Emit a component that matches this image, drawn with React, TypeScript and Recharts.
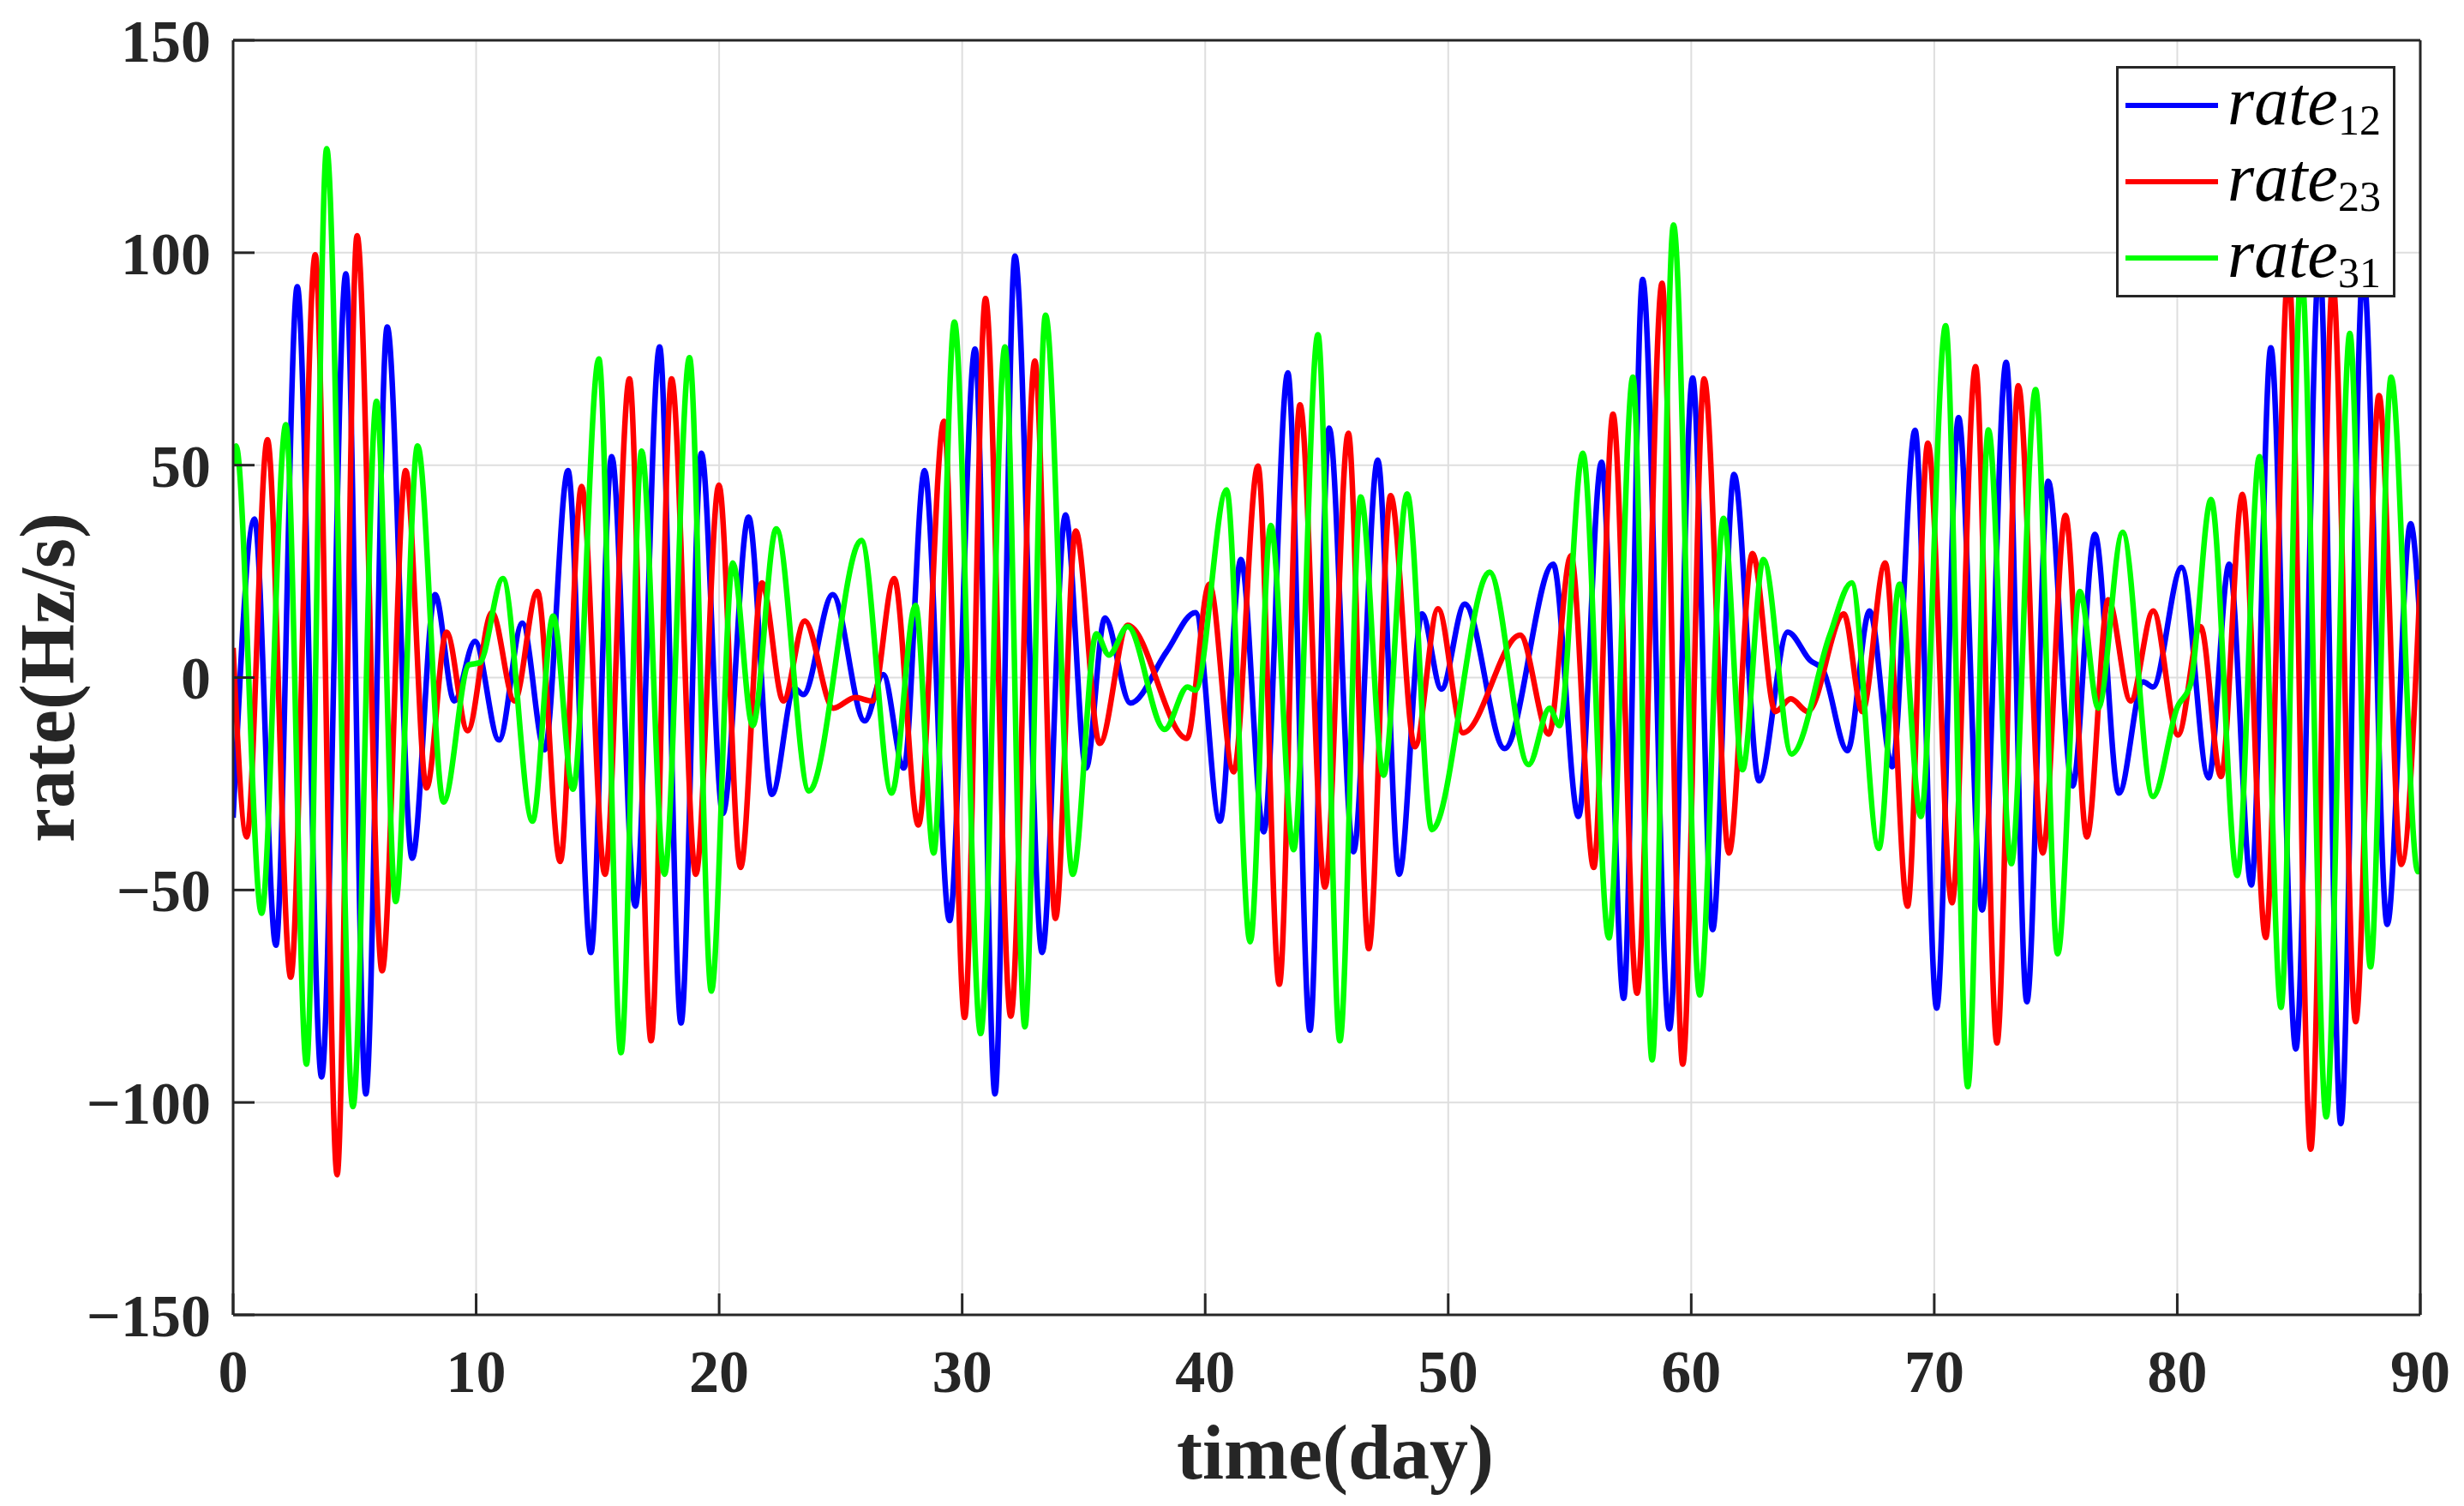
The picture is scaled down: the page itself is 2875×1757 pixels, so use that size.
import React from 'react';
import { LineChart, Line, XAxis, YAxis, CartesianGrid, Legend, Label } from 'recharts';

// ---------- data (extrema) ----------
const xTicks = [0, 10, 20, 30, 40, 50, 60, 70, 80, 90];
const yTicks = [-150, -100, -50, 0, 50, 100, 150];

const rate12Days = [0, 0.88, 1.76, 2.64, 3.64, 4.64, 5.46, 6.34, 7.37, 8.31, 9.1, 9.95, 10.94, 11.9, 12.82, 13.78, 14.72, 15.58, 16.55, 17.55, 18.43, 19.27, 20.15, 21.21, 22.17, 23.1, 23.46, 24.67, 25.99, 26.75, 27.6, 28.45, 29.48, 30.53, 31.35, 32.17, 33.29, 34.25, 35.1, 35.87, 36.92, 38.4, 39.6, 40.61, 41.47, 42.41, 43.4, 44.31, 45.1, 46.1, 47.1, 47.98, 48.92, 49.72, 50.68, 52.32, 54.32, 55.36, 56.31, 57.22, 58.0, 59.1, 60.06, 60.88, 61.76, 62.79, 63.97, 64.9, 65.4, 66.43, 67.34, 68.27, 69.21, 70.1, 71.0, 71.97, 72.96, 73.81, 74.69, 75.69, 76.61, 77.6, 78.6, 79.0, 80.18, 81.29, 82.14, 83.05, 83.85, 84.88, 85.85, 86.73, 87.65, 88.64, 89.6, 90];
const rate12Vals = [-33, 37.3, -63, 92, -94, 95, -98, 82.5, -42.5, 19.5, -5.5, 8.5, -14.7, 12.8, -17, 48.7, -64.7, 52, -53.8, 77.8, -81.3, 52.8, -32, 37.8, -27.5, -2.5, -4, 19.5, -10.2, 0.7, -21.3, 48.7, -57.2, 77.3, -98, 99.2, -64.7, 38.3, -21.3, 14, -6, 6, 15.3, -33.8, 27.8, -36.3, 71.7, -83, 58.7, -41, 51.2, -46.3, 15, -2.7, 17.3, -16.7, 26.7, -32.7, 50.7, -75.5, 93.7, -82.7, 70.5, -59.3, 47.8, -24.3, 10.7, 4, 2, -17.2, 15.7, -21, 58.2, -77.8, 61.2, -54.7, 74.2, -76.3, 46.2, -25.5, 33.7, -27.2, -1, -2.2, 25.9, -23.6, 26.7, -48.8, 77.6, -87.4, 98, -105, 96, -58.1, 36.2, 12];

const rate23Days = [0, 0.56, 1.41, 2.37, 3.38, 4.28, 5.1, 6.13, 7.1, 7.96, 8.78, 9.65, 10.65, 11.58, 12.52, 13.46, 14.34, 15.3, 16.31, 17.2, 18.04, 19.04, 19.99, 20.88, 21.76, 22.64, 23.52, 24.7, 25.6, 26.3, 27.2, 28.2, 29.25, 30.1, 30.96, 32.0, 32.99, 33.84, 34.67, 35.66, 36.81, 39.25, 40.17, 41.17, 42.17, 43.05, 43.9, 44.93, 45.89, 46.73, 47.63, 48.63, 49.58, 50.61, 52.96, 54.14, 55.05, 55.99, 56.78, 57.77, 58.8, 59.65, 60.53, 61.55, 62.52, 63.46, 64.1, 64.8, 66.28, 67.04, 67.98, 68.9, 69.74, 70.73, 71.7, 72.58, 73.46, 74.46, 75.4, 76.28, 77.16, 78.08, 79.01, 80.03, 80.96, 81.8, 82.68, 83.64, 84.58, 85.49, 86.4, 87.34, 88.3, 89.22, 90];
const rate23Vals = [7, -37.5, 56, -70.5, 99.5, -117, 104, -69, 48.7, -26, 10.7, -12.5, 15.3, -5.5, 20.3, -43.3, 45, -46.3, 70.3, -85.5, 70.3, -46.3, 45.3, -44.7, 22.3, -5.5, 13.3, -7.2, -4.7, -5.5, 23.3, -34.7, 60.3, -80, 89.2, -79.7, 74.5, -56.7, 34.5, -15.5, 12.3, -14.3, 22, -22.2, 49.8, -72.2, 64.2, -49.3, 57.5, -63.8, 42.8, -16.3, 16.2, -13, 10, -13.3, 28.7, -44.7, 62, -74.3, 92.8, -91, 70.3, -41.3, 29.2, -8, -5, -8, 15, -8, 27, -53.8, 55.2, -53, 73.2, -86, 68.7, -41.3, 38.2, -37.5, 18.3, -5.5, 15.7, -13.5, 12, -23.3, 43.1, -61.2, 96, -111, 93, -81, 66.4, -44, 23];

const rate31Days = [0, 0.12, 1.17, 2.17, 3.02, 3.85, 4.93, 5.9, 6.69, 7.59, 8.66, 9.7, 10.15, 11.1, 12.32, 13.17, 13.99, 15.05, 15.96, 16.81, 17.75, 18.78, 19.68, 20.56, 21.38, 22.35, 23.7, 25.85, 27.1, 28.08, 28.83, 29.68, 30.76, 31.76, 32.58, 33.43, 34.55, 35.52, 36.04, 36.81, 38.33, 39.27, 39.6, 40.88, 41.85, 42.7, 43.64, 44.64, 45.54, 46.4, 47.34, 48.31, 49.33, 51.7, 53.31, 54.17, 54.58, 55.54, 56.61, 57.6, 58.39, 59.27, 60.35, 61.33, 62.11, 62.97, 64.13, 65.7, 66.6, 67.72, 68.57, 69.45, 70.47, 71.38, 72.23, 73.17, 74.17, 75.08, 75.99, 76.75, 77.75, 79.0, 80.0, 80.55, 81.39, 82.47, 83.38, 84.27, 85.1, 86.13, 87.1, 87.95, 88.8, 89.9, 90];
const rate31Vals = [50, 54.5, -55.5, 59.5, -91, 124.5, -101, 65, -52.7, 54.5, -29.3, 3.0, 3.5, 23.3, -33.8, 14.5, -26.3, 75, -88.3, 53.3, -46.3, 75.3, -73.8, 27, -11.3, 35, -26.7, 32.3, -27.2, 17, -41.3, 83.7, -83.8, 77.8, -82.2, 85.3, -46.3, 10.3, 5.3, 12, -12.2, -2.2, -3, 44.2, -62.2, 35.8, -40.5, 80.7, -85.5, 42.5, -23, 43.2, -35.8, 24.8, -20.5, -7.2, -11.3, 52.8, -61.3, 70.7, -90, 106.5, -74.7, 37.5, -21.7, 27.8, -18, 10, 22.3, -40.2, 22, -32.7, 82.8, -96.3, 58.3, -43.8, 67.8, -65, 20.3, -7.2, 34.2, -28, -7, -1.5, 41.9, -46.6, 52, -77.6, 96, -103.4, 81, -68.1, 70.7, -45.7, -45];

const seriesNames = ['rate12', 'rate23', 'rate31'];
const legendBase = ['rate', 'rate', 'rate'];
const legendSubs = ['12', '23', '31'];
const seriesColors = ['#0000FF', '#FF0000', '#00FF00'];

const toPoints = (days: number[], vals: number[]) => days.map((t, i) => ({ t, v: vals[i] }));
const seriesData = [
  toPoints(rate12Days, rate12Vals),
  toPoints(rate23Days, rate23Vals),
  toPoints(rate31Days, rate31Vals),
];

// ---------- styles ----------
const W = 2875;
const H = 1757;
const AX = '#262626';
const FONT = '"Liberation Serif", "Times New Roman", serif';
const tickStyle = { fontSize: 70, fontWeight: 'bold' as const, fontFamily: FONT, fill: AX };
const fmt = (v: number) => String(v).replace('-', '\u2212');

const LegendBox = (props: any) => {
  const payload = (props.payload || []).filter((p: any) => seriesNames.includes(p.value));
  const ordered = seriesNames.map((n) => payload.find((p: any) => p.value === n)).filter(Boolean);
  return (
    <svg width={326} height={270} style={{ display: 'block', overflow: 'visible' }}>
      <rect x={1.5} y={1.5} width={323} height={267} fill="#ffffff" stroke={AX} strokeWidth={3} />
      {ordered.map((p: any, i: number) => {
        const idx = seriesNames.indexOf(p.value);
        const ly = 46 + i * 89;
        return (
          <g key={p.value}>
            <line x1={11} x2={119} y1={ly} y2={ly} stroke={p.color} strokeWidth={6} />
            <text x={130} y={ly + 22} fontFamily={FONT} fontStyle="italic" fontSize={80} fill="#000">
              {legendBase[idx]}
              <tspan fontStyle="normal" fontSize={50} dy={12}>{legendSubs[idx]}</tspan>
            </text>
          </g>
        );
      })}
    </svg>
  );
};

export default function App() {
  return (
    <div style={{ position: 'absolute', left: 0, top: 0, width: W, height: H, background: '#fff' }}>
      <LineChart width={W} height={H} margin={{ top: 0, right: 0, bottom: 0, left: 0 }}>
        <CartesianGrid stroke="#dedede" strokeWidth={2} xAxisId="bottom" yAxisId="left" />
        <XAxis
          xAxisId="bottom"
          type="number"
          dataKey="t"
          domain={[0, 90]}
          ticks={xTicks}
          interval={0}
          allowDataOverflow
          height={223}
          tickSize={-25}
          tickMargin={65}
          tick={tickStyle}
          tickFormatter={fmt}
          axisLine={{ stroke: AX, strokeWidth: 3 }}
          tickLine={{ stroke: AX, strokeWidth: 3 }}
        >
          <Label
            value="time(day)"
            position="insideBottom"
            offset={32}
            dx={10}
            style={{ fontSize: 90, fontWeight: 'bold', fontFamily: FONT, fill: AX }}
          />
        </XAxis>
        <XAxis
          xAxisId="top"
          orientation="top"
          type="number"
          dataKey="t"
          domain={[0, 90]}
          ticks={xTicks}
          interval={0}
          allowDataOverflow
          height={47}
          tickSize={-25}
          tick={false}
          axisLine={{ stroke: AX, strokeWidth: 3 }}
          tickLine={{ stroke: AX, strokeWidth: 3 }}
        />
        <YAxis
          yAxisId="left"
          type="number"
          domain={[-150, 150]}
          ticks={yTicks}
          interval={0}
          allowDataOverflow
          width={272}
          tickSize={-25}
          tickMargin={51}
          tick={tickStyle}
          tickFormatter={fmt}
          axisLine={{ stroke: AX, strokeWidth: 3 }}
          tickLine={{ stroke: AX, strokeWidth: 3 }}
        >
          <Label
            value="rate(Hz/s)"
            angle={-90}
            position="insideLeft"
            offset={54}
            style={{ fontSize: 90, fontWeight: 'bold', fontFamily: FONT, fill: AX, textAnchor: 'middle' }}
          />
        </YAxis>
        <YAxis
          yAxisId="right"
          orientation="right"
          type="number"
          domain={[-150, 150]}
          ticks={yTicks}
          interval={0}
          allowDataOverflow
          width={51}
          tickSize={-25}
          tick={false}
          axisLine={{ stroke: AX, strokeWidth: 3 }}
          tickLine={{ stroke: AX, strokeWidth: 3 }}
        />
        {seriesData.map((d, i) => (
          <Line
            key={seriesNames[i]}
            xAxisId="bottom"
            yAxisId="left"
            data={d}
            dataKey="v"
            name={seriesNames[i]}
            type="monotone"
            stroke={seriesColors[i]}
            strokeWidth={6.5}
            dot={false}
            activeDot={false}
            isAnimationActive={false}
          />
        ))}
        <Legend
          layout="vertical"
          align="center"
          verticalAlign="middle"
          content={<LegendBox />}
          wrapperStyle={{ left: 2469, top: 77, right: 'auto', bottom: 'auto', width: 326, height: 270 }}
        />
      </LineChart>
    </div>
  );
}
